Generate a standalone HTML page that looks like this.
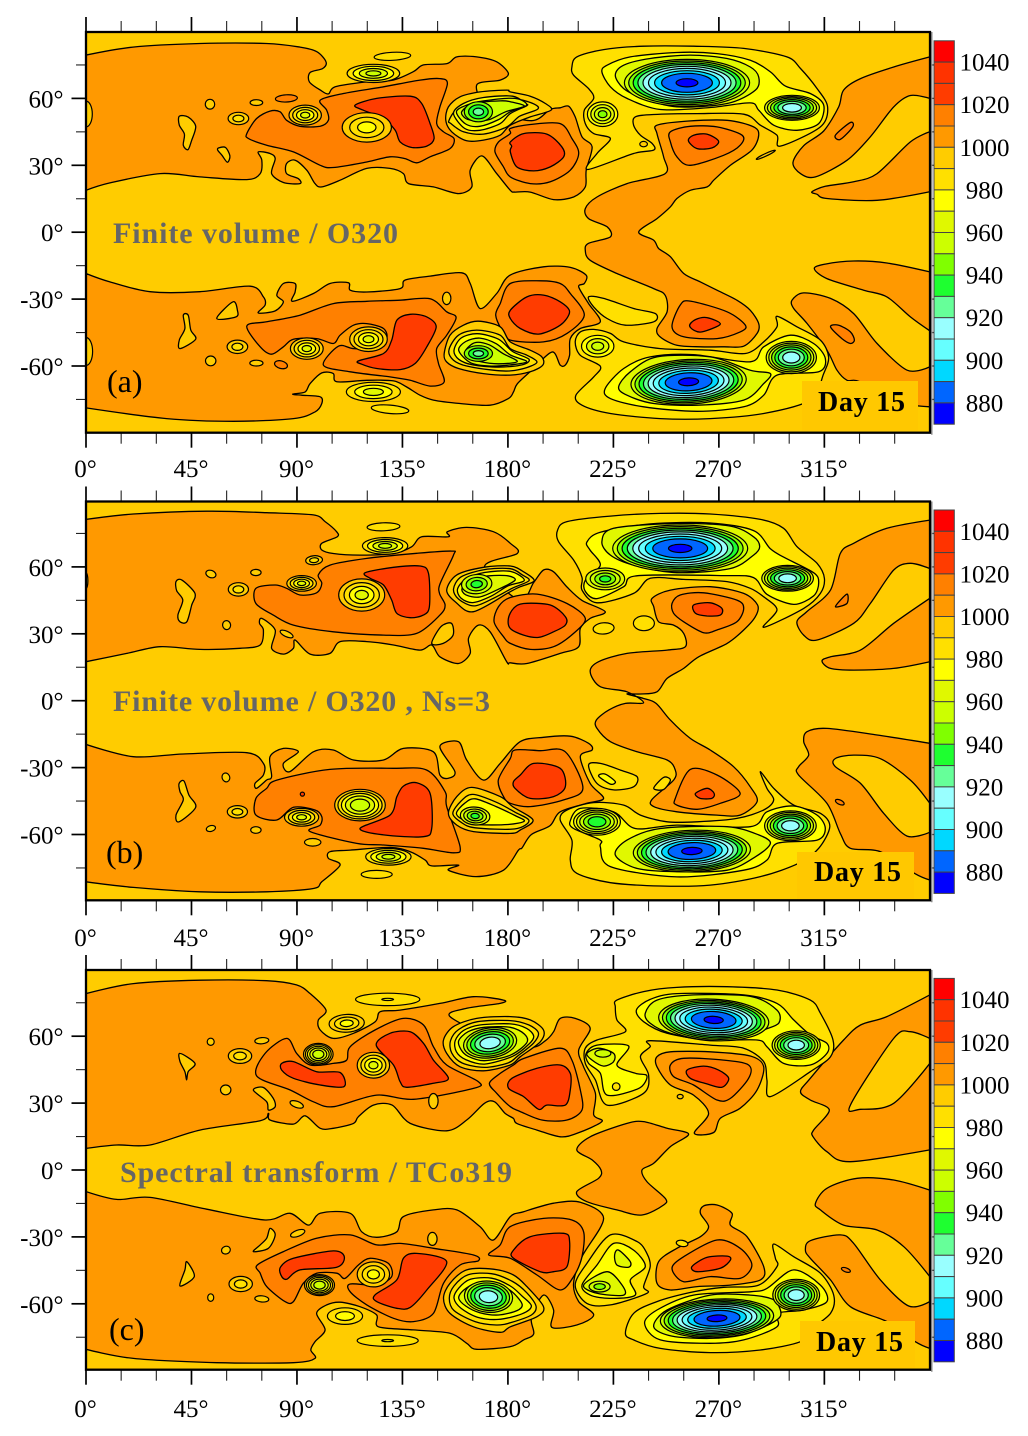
<!DOCTYPE html>
<html lang="en">
<head>
<meta charset="utf-8">
<title>Day 15 surface pressure contour maps</title>
<style>
html,body{margin:0;padding:0;background:#fff;}
svg{display:block;}
text{font-family:"Liberation Serif",serif;}
</style>
</head>
<body>
<svg id="figure" xmlns="http://www.w3.org/2000/svg" width="1028" height="1436" viewBox="0 0 1028 1436">
  <defs>
    <clipPath id="clip-a"><rect x="86" y="32" width="844" height="401"/></clipPath>
    <clipPath id="clip-b"><rect x="86" y="501" width="844" height="399.5"/></clipPath>
    <clipPath id="clip-c"><rect x="86" y="970" width="844" height="400"/></clipPath>
  </defs>
  <g id="panel-a">
    <rect x="86" y="32" width="844" height="401" fill="#FFCC00"/>
    <g id="marks-a" clip-path="url(#clip-a)"></g>
    <rect x="802" y="381" width="116" height="50" fill="#FFC800"/>
    <text x="113" y="243" font-size="30" font-weight="bold" fill="#666" textLength="285">Finite volume / O320</text>
    <text x="107" y="392" font-size="32" fill="#000">(a)</text>
    <text x="818" y="411" font-size="28" font-weight="bold" fill="#000" textLength="87">Day 15</text>
    <g id="axes-a"></g>
  </g>
  <g id="panel-b">
    <rect x="86" y="501" width="844" height="399.5" fill="#FFCC00"/>
    <g id="marks-b" clip-path="url(#clip-b)"></g>
    <rect x="797" y="852" width="117" height="47" fill="#FFC800"/>
    <text x="113" y="711" font-size="30" font-weight="bold" fill="#666" textLength="377">Finite volume / O320 , Ns=3</text>
    <text x="106" y="863" font-size="32" fill="#000">(b)</text>
    <text x="814" y="881" font-size="28" font-weight="bold" fill="#000" textLength="87">Day 15</text>
    <g id="axes-b"></g>
  </g>
  <g id="panel-c">
    <rect x="86" y="970" width="844" height="400" fill="#FFCC00"/>
    <g id="marks-c" clip-path="url(#clip-c)"></g>
    <rect x="800" y="1321" width="115" height="47" fill="#FFC800"/>
    <text x="120" y="1182" font-size="30" font-weight="bold" fill="#666" textLength="392">Spectral transform / TCo319</text>
    <text x="109" y="1340" font-size="32" fill="#000">(c)</text>
    <text x="816" y="1351" font-size="28" font-weight="bold" fill="#000" textLength="87">Day 15</text>
    <g id="axes-c"></g>
  </g>
</svg>
<script>
// Axis ticks and colour scale
const lonTicks = [0,15,30,45,60,75,90,105,120,135,150,165,180,195,210,225,240,255,270,285,300,315,330,345];
const lonLabels = [0,45,90,135,180,225,270,315];
const latTicks = [75,60,45,30,15,0,-15,-30,-45,-60,-75];
const latLabels = [60,30,0,-30,-60];
const barLevels = [1040,1030,1020,1010,1000,990,980,970,960,950,940,930,920,910,900,890,880,870];
const barColors = ["#FF0000","#FF3300","#FF3C00","#FF8000","#FF9900","#FFCC00","#FFE000","#FFFF00","#E0F800","#CCFF00","#80FF00","#1EFF30","#66FF99","#99FFFF","#66FFFF","#00D8FF","#0066FF","#0000FF"];
const barLabels = [1040,1020,1000,980,960,940,920,900,880];

// Contour regions: [band level, flat lon,lat list], painted in order
const regionsA = [
[1000,[0,79.4,20,83,48.6,84.6,77,84.6,91.3,83,98.4,81,102.4,76.4,101,73.4,95.6,71.6,95.3,67.4,100,63.7,103.4,62,106.3,65.2,119.8,67.4,131,68.2,139.7,72,144,75,154,75.6,158.2,78.6,166.7,78.6,175.2,76.4,180.2,71.2,176.7,68.2,166.7,66,172,55,190,50,198,55,202.3,55.8,205.9,56.5,208.7,51.7,211.6,42.8,215.9,38.3,213.4,27.8,213,20.3,208,15.8,199.5,14.6,189.5,18,183,18,181,18.8,175.2,26.3,168.9,34.2,163.9,27.8,164.6,20.3,158.9,17.3,148.2,20.3,137.6,21.8,135.4,26.3,129.7,28.6,119.8,28.6,108.4,23.3,100.6,20.3,97.7,21.8,94.2,27.8,89.2,32.3,85.6,30.8,85.6,26.3,90.6,24,91.3,21.8,84.2,22.3,79.2,26.3,80.7,33,78.5,35.3,73.5,36,75,32.3,74.3,26.3,68.6,23.6,48.6,24.8,31.6,26.3,10.2,22.1,0,18.8]],
[1000,[0,-18.5,10.2,-22.3,27.3,-26.7,48.6,-26.7,70,-24.2,75.7,-29,76.4,-32.7,73.5,-36.2,80.7,-35.3,84.2,-31.2,81.4,-28.3,84.2,-23,89.2,-23,89.2,-26.8,88,-31,97,-27.5,104.1,-23,112,-22.7,112.7,-26,119.8,-26.8,134,-25.3,136.1,-21.5,146.8,-19.7,160.3,-18.2,163.9,-23,168.1,-34.2,175.2,-27.5,180.9,-19.3,195.2,-15.5,206.6,-15.8,213.4,-19.3,212.6,-23,210.2,-24.5,214.4,-32,219.4,-40.2,210.9,-43.2,206.6,-47.7,206.3,-55.2,204.5,-59.6,202.3,-59.6,198.8,-53.7,190,-62,184,-68,182.4,-71.6,180.2,-74.6,172.4,-77.6,159.6,-76.8,148.2,-75.3,142.5,-73.1,136.8,-69.4,131.2,-66.7,119.8,-66.4,107,-67.1,105.5,-63.4,100.6,-63.1,95.6,-67.9,93.5,-71.6,88.2,-72.6,92,-73.1,99.9,-73.8,100.6,-76.8,97.7,-80.6,88.5,-83.6,62.9,-84.8,34.4,-83.6,0,-78.8]],
[1000,[243.6,48,256.4,49.8,273.5,50.2,284.8,47.2,287,43.5,284.1,36.8,274.9,30,267.8,23.3,265,20.3,257.8,18.8,252.1,15.1,249.3,11.4,243.6,6.1,235.8,0.1,242.2,-3.6,244.3,-7.3,249.3,-11,255,-18.5,262.1,-22.3,269.2,-26,277.7,-30.5,283.4,-35,287,-41,286.3,-45.4,280.6,-51.1,272,-51.4,262.1,-51.4,252.1,-50.7,245,-47,243.6,-43.2,247.9,-35.7,247.1,-28.3,242.2,-25.3,226.5,-18.5,215.1,-12.6,213,-8.1,214.4,-5,223.7,-2.1,222.3,2.4,214.4,6.1,213,10.6,218,15.8,230.8,21.8,247.1,26.3,246.4,33.8,243.6,44.2]],
[1000,[301.6,31.3,306.2,38.8,314.7,45.4,321.1,56.2,323.2,63.7,330.4,68.9,344.6,74.1,360,78.6,360,60,351.7,61.3,344.6,56.2,334.6,42.8,324.7,32.3,311.2,24.8,304.8,26.3]],
[1000,[309.7,18.1,315.4,20.6,327.5,22.6,337.5,26.3,351.7,40.5,360,45,360,18.1,337.5,14.3,316.1,15.1,311.9,17]],
[1000,[310.7,-16.3,315.4,-14.3,327.5,-12.9,341.7,-13.8,360,-17.8,360,-44.2,351.7,-38,341.7,-29,331.8,-26,316.1,-20.8]],
[1000,[301.2,-30.5,306.2,-27.2,317.6,-29.7,327.5,-36.5,337.5,-49.9,350.3,-61.9,360,-60.4,360,-78.3,345,-76,330,-67,324.7,-66.4,320.4,-61.9,316.1,-52.9,307.6,-40.9,301.9,-34.2]],
[990,[39.8,52,43.6,51.6,46.8,47.5,45,41,43.5,37,41.5,39,42,44,39.8,48]],
[990,[56.6,37.8,59.5,38,61.4,34.2,60.3,31.4,58,34.5,56.2,36.8]],
[990,[41.5,-37.2,43.6,-37.2,44.7,-43.9,46.8,-48,40.1,-52.2,39.8,-48.4,42.2,-43.2]],
[990,[55.8,-38.7,62.7,-31.2,64.6,-35,64,-38]],
[1010,[99.9,59.2,109.8,62.2,126.9,65.2,142.5,68.2,151,68.9,154.2,66.7,151,56.2,149.6,48.7,152.5,45,157,42,155.3,37.5,146.8,33.8,141.1,31.1,136.1,33,129.7,33.8,119.8,31.5,105.5,29,99.9,30,88.5,36,77.1,39,69.3,42,68.6,44.2,72.8,51,78.5,54.3,82.8,54,85.6,50.2,91.3,47.5,99.9,47.5,103.4,50.2,102.7,54.7]],
[1010,[68.6,-42.1,77.1,-40.2,91.3,-37.2,105.5,-32,119.8,-31,134,-30.5,146.8,-29.8,153.9,-35.7,157.9,-38.3,153.9,-46.2,149.6,-52.2,150.4,-58.9,152.8,-67.1,146.8,-69,138.3,-66.4,129.7,-64.9,112.7,-62.6,101.3,-59.6,107.7,-51.1,114.1,-52.2,124,-52.2,128.3,-47.7,126.9,-43.2,119.8,-41,114.1,-41.7,108.4,-46.2,105.5,-49.9,98.4,-47.7,88.5,-48,84.2,-51.4,79.2,-54.7,74.3,-51.4]],
[1010,[181,46.5,189.5,48.3,202.3,48.7,207.3,42,210.2,35.3,206.6,27.8,198.1,22.6,189.5,21.8,181,24.8,178.1,29.3,174.5,36,176,40.5,181,44.2]],
[1010,[181,-23,193.8,-21.8,202.3,-23,206.6,-27.5,212.6,-37.2,205.2,-45.4,195.2,-49.2,181,-48.4,177.4,-43.9,174.8,-37.2,176.7,-32]],
[1010,[249.3,45,257.8,47.5,269.2,47.2,279.9,43.5,279.1,39,272,34.5,257.8,30,252.1,33.8,249.3,40.5]],
[1010,[250,-42.4,253.5,-32.7,257.8,-30.9,273.5,-35.7,281.3,-41.7,279.1,-44.7,269.2,-47.7,255,-46.9]],
[1010,[319.7,43.5,326.1,49.2,327.1,47.2,321.8,41.6]],
[1010,[317.6,-42.4,321.1,-41.7,326.1,-44.7,327.8,-48.4,326.1,-49.9,322.5,-47.7]],
[1020,[114.8,57,124,60,138.3,61,143.2,57.7,146.8,48.7,148.5,42,145.4,38.6,139,38,134,40.5,131.9,45.7,126.9,51,118.3,54.7]],
[1020,[116.2,-57.7,126.9,-54.4,130.4,-48.4,132.6,-39.5,138.3,-36.8,145.4,-38,149.4,-42.4,145.4,-51.4,140.4,-58.9,134,-61.6,124,-61.1,117.6,-59.2]],
[1020,[186.7,44.2,196.6,44,203,38.3,203.8,33.8,198.1,29.3,191,27.5,183.8,29.3,181,36,181.6,38.6,181,40.5]],
[1020,[181,-35,188.1,-29,195.2,-28.2,202.3,-31.2,206.3,-35.7,202.3,-41.7,193.1,-45.7,185.3,-43.2,181,-38.7]],
[1020,[257,41,259.2,43.5,264.9,44,269.9,40.8,267.1,37.8,260.7,37.5]],
[1020,[257.5,-41.7,260,-39.2,264.9,-38.3,270.6,-41.2,262.8,-44.7,259.2,-43.9]],
[990,[153.5,50.2,154.6,56.2,159.6,60.7,168.1,62.9,179.5,63.7,181,62.9,189.5,61,196,57.7,198.4,54.7,189.5,51.7,181,48,176.7,43.5,169.6,41.3,162.4,41,156,45]],
[980,[154.8,50,158,55,165,58.2,172,59.5,180.5,60,186.5,59.2,192,57,192.5,55,185,52,179.5,47.2,169.6,44,161,45,155.7,48.7]],
[970,[156.8,53.2,161,57.7,169.6,60.4,182,61,187.4,57.7,188,56.7,181,53.2,176.7,48.7,168.1,45.7,161.6,46.5]],
[960,[158,54,162.4,57,169.6,58.9,183,60,188,57,181,54,176,50.5,168,47.5,162,48.5]],
[950,[160.3,54,165.3,57.7,176.7,58.9,181,58.5,187,56.5,179,54,172,50.5,166,50,162,51]],
[980,[207.3,74.1,209.4,78.6,220.8,81.9,237.9,83.4,259.2,83.4,280.6,82.4,299,78.6,304.8,73.4,311.9,64.4,316.4,56.2,313.3,47.2,296.2,38.6,294.8,43.5,287.7,48,280.6,52.9,260.7,53.2,242.2,52.8,234.3,51.7,233.6,48,236.5,43.5,241.5,39.8,242.2,36.8,233.6,35.3,214,28.1,218,35.3,223.7,42,216.6,44.2,213,48.7,212.6,54.7,216.6,60,214.4,64.4,208,70.4]],
[970,[220.1,71.9,222.3,74.9,232.2,78.6,252.1,80.6,269.2,80.1,283.4,77.1,292,71.9,298.4,65.5,309,62.2,314.7,57,312.6,48.7,303.3,45.7,293.4,48,287,54.7,283.4,58,266.3,55.9,245,55,230.8,60,223.7,65.2]],
[960,[225.8,70.4,229.4,74.9,240.7,77.9,257.8,79.4,273.5,77.9,283.4,74.1,287,69.6,285.6,63.7,273.5,57.7,252.1,56.2,237.9,60,229.4,64.4]],
[990,[152.8,-54.4,155.3,-46.2,161,-41.7,167.4,-39.9,176.7,-42.4,181,-49.2,189.5,-52.9,194.5,-55.9,194.9,-59.6,189.5,-62.6,181,-64.1,169.6,-63.4,158.9,-61.1,153.9,-58.2]],
[980,[154.8,-52.9,158.9,-46.2,166.7,-43.9,176.7,-46.2,181,-52.2,188,-55.1,192.4,-58.2,188,-60.7,181,-62.2,173.8,-61.9,162.4,-60,156.8,-57.4]],
[970,[157,-53,160,-47.5,167,-45.5,176,-48,182,-53.5,189,-57,186,-59.5,176,-60.5,165,-59.5,159,-57]],
[960,[159,-53,162,-49,168,-47.5,175,-50,181,-55,188,-58,181,-59.5,172,-60,164,-58.5]],
[950,[162,-53,166,-49.5,172,-50.5,178,-54.5,184,-58,176,-59,168,-58,163,-56]],
[980,[214.4,-29,220.8,-29.7,233.6,-34.2,242.9,-36.5,242.2,-40.2,230.1,-41.7,222.3,-38.7,216.6,-33.5]],
[980,[209,-73.1,211.6,-77.6,223.7,-81.3,245,-83.6,266.3,-83.6,289.1,-81.3,309,-75.3,314.7,-63.4,316.8,-55.9,313.3,-48.4,303.3,-42.4,294.8,-37.7,294.8,-42.4,289.1,-49.2,281.3,-54.4,266.3,-52.9,245,-52.2,229.4,-49.2,223.7,-45.4,216.6,-43.6,210.9,-44.7,208.7,-49.2,210.9,-55.2,219.4,-60.1,216.6,-64.9]],
[970,[221.5,-70.1,229.4,-61.1,240.7,-55.9,259.2,-54.9,283.4,-58.1,289.1,-51.4,300.5,-46.2,310.4,-49.9,315.4,-56.6,312.6,-62.6,294.8,-64.1,289.1,-73.1,280.6,-78.3,260.7,-80.3,237.9,-78.3,223.7,-74.6]],
[960,[227.2,-69.4,232.2,-62.6,243.6,-55.9,266.3,-55.9,283.4,-61.9,292,-63.4,289.1,-67.9,280.6,-75.3,260.7,-77.6,242.2,-76.8,230.8,-73.1]]
];
// Closed contour rings: [lon, lat, radius lon, radius lat, tilt, highest band, lowest band]
const vorticesA = [
[93.5,52.5,6.9,4.5,0,990,960],[119.8,47,10.5,6.6,0,990,970],[122.6,71.2,11.2,4.1,0,980,950],[130.7,78.9,7.8,1.8,-3,980,980],[65,51,4.4,2.8,0,990,980],[52.9,57.4,2,2.2,0,990,990],[72.7,58.1,2.7,1.3,0,990,990],[85.5,60,4.7,1.6,-3,1010,1010],[0,53,2.7,5.8,0,990,990],[167.4,54,6,4.5,0,940,920],[256.4,67,26.7,10.5,0,950,870],[301.2,55.8,11.7,5.6,0,960,910],[220.4,52.9,6.5,5.5,0,970,940],[237.9,39.5,1.6,1.2,0,990,990],[290,34.7,4.5,0.6,-25,990,990],
[120.5,-48,8,5.5,0,990,960],[94.2,-52.2,7,4.8,0,990,960],[122.6,-71.6,11.5,4.3,0,980,960],[129.7,-79.4,8,1.9,5,980,980],[153.9,-29.7,1.8,2.8,0,990,990],[64.6,-51.4,4.4,3,0,990,980],[53.2,-57.7,2.2,2.2,0,990,990],[72.7,-58.7,2.8,1.3,0,990,990],[83.2,-59.4,2.8,1.7,15,1010,1010],[0,-53.5,2.8,6.3,0,990,990],[167.4,-54.4,6,3.5,0,940,920],[257.1,-67.1,24.6,10,-3,950,870],[300.9,-56.2,10.7,7.2,0,960,910],[218.3,-51.1,6.9,4.9,0,970,950]
];

const regionsB = [
[1000,[0,81.3,20.2,83.7,51.5,85,77.1,84.3,97,83.3,102,80.3,106.9,75.8,107.2,73.5,100.6,70.6,100.6,67.6,105.5,66,116.9,65.3,131,66,138.9,69,143.2,73.5,154.6,73.5,154.2,75.8,162.4,77.7,173.8,75.8,181,70.6,184,66,170,60,185,45,191,53,195.2,58.6,199.5,57.8,205.2,51,211.6,45,221.5,39.9,215.1,36.9,210.9,32.4,210.2,24.2,202.3,21.2,188.1,16.7,181,17,179.5,17.5,172.4,30.9,167.4,33.9,163.2,28,163.9,21.2,158.9,16.7,151,19.7,147.5,25,142.5,22.7,131.2,25,119.8,26.5,108.4,26.5,104.1,21.2,95.6,20.9,89.2,27.2,88.5,23.5,84.2,20.9,79.2,23.5,80.7,31.7,75,36.9,74,34.7,75.7,31.7,74.3,25,65.7,23.5,48.6,23,31.6,24.2,17.4,21.2,0,17.5]],
[1000,[0,-19.6,20.2,-25.1,41.5,-23.9,68.6,-23.3,75.7,-28.1,75.7,-33.3,72.1,-37.1,72.8,-39.3,77,-35.6,79.2,-34.1,78.5,-25.1,84.2,-21.4,90.6,-22.9,84.2,-28.1,87,-31.8,97,-22.9,105.5,-22.1,114.1,-26.6,126.9,-26.6,135.4,-21.4,148.2,-22.9,151,-33.3,154.6,-34.8,157.4,-31.8,151,-20.6,158.9,-18.4,162.4,-26.6,169.6,-35.6,176.7,-28.1,185.2,-18.4,195.2,-16.4,206.6,-15.9,214.4,-19.1,215.9,-22.1,210.9,-25.1,215.1,-37.1,220.8,-43.8,213.7,-46,202.3,-49.8,198,-56,190,-60,186,-66,184.5,-67,178.1,-76,166.4,-78.9,154.6,-76,158.9,-73.7,147.5,-74.1,144.7,-71.5,138.3,-67.7,129.7,-65.8,112.7,-67,104.1,-67.7,103.4,-70.7,108.4,-73.7,100.6,-81.2,97,-84.2,77.1,-85.7,48.6,-85.7,20.2,-83.7,0,-81.2]],
[1000,[241.5,45.9,249.3,49.6,266.3,51.1,280.6,48.1,286.5,42.9,285.6,37.7,280.6,31.7,273.5,25.7,261.4,19.7,255,14.5,247.9,10,243.6,4,236.5,3,230.8,3,237.9,1,243.2,-1.2,249.3,-8.7,257.8,-16.9,266.3,-22.1,276.3,-29.6,283.4,-38.6,286.3,-45.3,279.1,-51.3,269.2,-51.3,252.1,-49.8,242.2,-47.5,241.5,-44.2,250.7,-35.6,251.4,-31.1,247.9,-26.6,235.1,-22.9,223.7,-18.4,218,-12.4,217.7,-8.7,223,-4.2,230.1,-1.2,237.9,-0.9,230.8,4,219.4,6.3,215.1,13,218.7,17.5,230.8,21.2,247.9,22.7,255.7,24.2,255,30.2,250.7,33.9,244.3,35.4,242.2,42.2]],
[1000,[303.3,35.4,307.6,40,317.6,49.6,321.8,66,327.5,70.6,341.7,77.3,360,81,360,59.3,351.7,61.6,344.6,58.6,334.6,43.6,327.5,34.7,311.9,27.2,306.2,29.4]],
[1000,[314,17.8,317.6,19.7,330.4,22.7,344.6,34.7,360,45.9,360,17.5,344.6,14.5,327.5,13.7,317.6,14.5]],
[1000,[307.6,-13.9,316.1,-12.4,337.5,-15.4,360,-19.1,360,-80.4,353.4,-77.4,338.9,-67.7,326.1,-66.2,321.8,-59.5,316.1,-46,304,-33.3,304,-29.6,308.3,-24.4,306.2,-18.4]],
[990,[319.7,-25.9,327.5,-24.4,338.9,-26,351.7,-35.6,360,-46,360,-59,350.3,-60.7,340.3,-50.5,330.4,-37.1,319.7,-29.6]],
[990,[38.4,53.4,40.9,54.1,46.5,48.1,45.1,42.9,43,35.4,40.1,35.4,39.2,38.4,41.3,45.1,38.7,49.3]],
[990,[147.5,25.7,151.4,33.2,155.9,34.7,156.6,29.4,152.4,25.7]],
[990,[39.7,-37.1,41.8,-36,43.9,-42.3,46.8,-47.8,39.7,-54.3,38.4,-51.3,41.5,-44.5,40.1,-40.8]],
[1010,[72.5,50.4,80.7,51.9,85.6,50.4,91.3,47.4,98.4,48.4,100.6,52.6,99.1,56.4,104.1,60.8,119.8,63.8,141.1,66.1,156,67.1,156.8,65.3,151.1,52.6,150.8,48.1,153.2,42.9,151,38.4,141.1,30.2,126.9,29.4,105.5,30.9,88.5,33.9,79.9,38.4,72.5,43.6]],
[1010,[72.5,-43.8,77.1,-39.3,81.4,-35.6,104.1,-30.8,131.2,-30.3,145.4,-31.1,153.2,-40.8,153.9,-47.5,159.6,-65.5,156.8,-68.2,143.9,-66.2,126.9,-64.7,115.5,-64,95.6,-58.7,99.9,-55.8,100.6,-52,97.7,-49,88.5,-47.8,81.4,-53.5,72.5,-51.3]],
[1010,[192.4,47.8,205.2,43.6,213,36.9,208,30.2,199.5,24.2,189.5,23,181,25.7,178.1,28.7,174.1,35.4,176,42.2,181,46.3]],
[1010,[193.8,-22.4,204.5,-22.9,212,-39.3,203.8,-44.5,189.5,-47.5,181,-46,178.1,-43,175.9,-35.6,181,-25.9,183,-22.1]],
[1010,[250,43.6,253.5,47.4,263.5,48.4,277.7,45.1,280.6,41.4,277.7,35.4,269.2,31.7,263.5,30.5,255,35.4,250.7,39.2]],
[1010,[251.4,-43.8,257.8,-30.8,269.2,-33.3,279.1,-41.6,270.6,-46,260.7,-48.7,252.1,-46.8]],
[1010,[319.7,42.2,324.6,47.8,324.6,43.6]],
[1020,[119.1,57.4,131.2,59.8,142.5,60.4,146.1,57.1,146.5,42.2,143.9,38.4,138.3,37.2,132.6,39.2,130.4,45.1,126.9,51.9,121.2,54.9]],
[1020,[116.9,-57.3,129.7,-51.3,132.6,-43.1,135.4,-38.3,141.1,-36.8,146.8,-41.6,147.5,-57.3,143.9,-61,126.9,-60.2]],
[1020,[186.7,43.6,198.1,42.9,204.5,37.7,204.5,33.9,199.5,30.9,193.1,28.4,186.7,29.4,181,32.4,180.2,36.9,182.4,41.4]],
[1020,[191,-28.1,202.3,-30.3,204.5,-38.6,199.5,-43,189.5,-43.8,183,-39.3,182.4,-36.3,185.3,-33.3]],
[1020,[259.2,42.9,266.3,43.9,271.3,41.4,270.6,38.4,264.9,38,260,39.2]],
[1020,[260,-41.6,265,-39.3,268,-41.6,267,-43.8,262,-43.8]],
[990,[153.9,49.6,158.2,56.4,169.6,59.8,181,60.4,186.7,57.8,191.2,53.8,185.3,51.1,181,48.9,165.3,39.9,157.5,44.4]],
[980,[156.8,50,160,55.5,170,58.8,181,59.2,186,56.5,189,53.8,182,50.5,173,45.5,165.5,42.5,159,45.5]],
[970,[158.5,50,162,54.5,170,57.5,181,58,187,54,180,51.5,173,47,165,44,160,46]],
[960,[160.5,50.5,165,54.5,172,56,180,56,183,54,176,50,168,46.5,162,47.5]],
[980,[201.2,76.5,205.2,80.3,223.7,82.8,245,84,266.3,83.7,287.7,81.3,297.6,77.3,303.3,69.1,311.9,61.6,315,54.9,313.3,48.1,306.2,41.4,289.1,32.9,294.8,40.7,289.1,46.6,283.4,50.4,273.5,53.4,255,54.4,240.7,54.9,233.6,48.1,218,43.9,211.6,49.6,211.6,55.3,208,63.1,201.6,71.3]],
[970,[213.7,71.1,219.4,75.5,240.7,79.3,266.3,79.7,284.8,76.3,292,68.1,297.6,64.4,310.4,57.4,312.6,52.9,310.4,47,301.9,43.2,290.5,47.7,284.8,55.2,272,56.1,235,56,229.4,51.1,218,45.8,213,49,213,54,219.4,60.8,215,67.6]],
[960,[220.1,71.3,225.1,77.3,252.1,79.5,274.9,78.3,284.8,73.5,287.4,69.1,284.8,65.3,274.9,59.3,252.1,57.4,233.6,60.8,223.7,65.3]],
[990,[154.6,-50.5,158.2,-43,164.6,-38.9,176.7,-43,182,-47.5,190.7,-53.5,185.3,-58,181,-59.5,165.3,-58.7,158.2,-55.8]],
[980,[156.5,-50.5,160,-45,165,-42,175,-45.5,183,-50,189,-53.8,183,-57.5,166,-57,160,-54.5]],
[970,[158,-50.5,161.5,-46,166,-44,175,-47.5,183,-51.5,187,-54,180,-55.5,167,-55.5,161,-53.5]],
[980,[214.4,-28.8,219.4,-28.1,228,-31.1,235.1,-34.1,233.6,-38.6,225.1,-40,218,-37.1]],
[970,[218.7,-33.8,221.5,-32.9,225.8,-36.3,223.7,-37.4]],
[980,[242.2,-39.3,246.4,-34.4,249.3,-35.6,246.4,-39.8]],
[980,[206.6,-71.5,209.4,-77.4,223.7,-81.6,245,-83.1,266.3,-82.7,287.7,-78.9,304,-72.9,312.6,-66.2,317.3,-56.5,313.3,-50.5,301.9,-46.8,293.4,-39.3,287.7,-31.8,290.5,-39.3,293.4,-44.5,289.1,-49,277.7,-52.8,260.7,-54.3,247.9,-54.3,236.5,-51.3,229.4,-46.8,216.6,-45.7,205.2,-49,202.3,-53.5,207.3,-62.5]],
[970,[206.6,-53.8,210.9,-48.3,225.1,-49.8,234.3,-57.3,252.1,-55.8,283.4,-56.5,290.5,-49.8,301.9,-47.2,311.9,-51.3,315.4,-57.3,311.9,-62.5,294.8,-64,290.5,-71.5,280.6,-76,252.1,-79,223.7,-74.4,219.4,-65.5,219.4,-62.5,208,-57.3]],
[960,[225.8,-69.2,230.8,-62.5,245,-57.3,273.5,-56.5,287,-60.2,292,-64,285.6,-70,273.5,-76,252.1,-76.7,235,-75.2]]
];
const vorticesB = [
[92,52.6,6.3,3.5,0,990,960],[117.6,47.4,9.8,7.2,0,990,960],[127.6,69.4,9.7,3.7,0,980,950],[126.9,78,7,1.8,-2,980,980],[97.3,63,3.6,2,-5,990,980],[65,49.9,4.3,3,0,990,980],[53.3,56.8,2.2,1.6,20,990,990],[72.5,57.5,2.2,1.4,0,990,990],[60,33.9,1.7,2,-10,990,990],[85.6,29.9,3,1.2,25,990,990],[0,53.8,0.8,3.5,0,970,970],[220.8,32.4,4.5,2.5,-5,980,980],[238,34.7,4.5,3.3,0,980,980],[166.7,52.3,6.5,4.3,-5,950,930],[253.5,68.3,28.8,10.5,0,950,870],[299.3,54.9,11,5.8,0,960,910],[221.5,54.6,8.3,4.9,0,960,930],
[116.9,-46.8,10.8,7.1,0,990,950],[92,-52.3,7.3,4,0,990,960],[64.6,-49.8,4.3,2.8,0,990,980],[96.7,-63.5,3.5,1.7,0,990,990],[129,-70,9.7,3.7,0,980,950],[124,-77.9,6.6,1.8,0,980,980],[53.3,-57.3,2,1.3,-15,990,990],[72.5,-58,2.2,1.5,0,990,990],[59.7,-34.4,1.6,2,-20,990,990],[92.3,-41.9,0.9,0.9,0,1020,1020],[166,-51.7,6.3,4,5,960,930],[258.5,-67.4,25,9.3,-2,950,870],[300.5,-56.1,11,6.7,0,960,910],[218,-54.3,10,6,0,970,930],[321.6,-45.5,2,1,25,1010,1010]
];

const regionsC = [
[1000,[0,79.1,20.2,83.6,48.6,85.1,77.1,84.9,89.8,83,95.5,79.2,102.4,71.7,99.1,67.2,99.9,62.8,105.5,59,114.1,61.3,123.4,66.5,125.5,71,134,71.7,151,74.7,165.3,77.7,178.1,76.2,176.7,74.7,162.4,72.5,155.3,68.8,176,58,190,55,196,58,199.5,62,202.3,68,208.7,68,215.1,63.5,210.2,53.8,212.3,46.3,217.3,34.4,216.6,24.7,220.1,21.7,209.4,16.4,202.3,14.9,192.4,17.9,183.8,20.9,182.4,23.1,178.8,25.4,174.3,30.6,170,29.9,162.4,22.4,153.9,17.6,138.3,20.9,130.6,29.1,122.6,29.1,116.2,23.9,114.1,20.9,105.5,18.7,99.9,18.7,93.5,24.3,88.5,20.6,78.5,22.4,77.8,25.4,74.3,22.1,48.6,17.9,27.3,11.2,13.1,11.2,0,9.7]],
[1000,[0,-9.7,13.1,-13.2,27.3,-12.3,51.5,-17.6,76.4,-22.4,87,-19.4,94.9,-24.7,99.9,-19.4,112.7,-19.4,117.6,-27.7,124,-30.2,132.6,-27.7,135.4,-20.9,148.2,-17.9,158.2,-17.9,168.1,-25.4,173.8,-31.4,181,-20.9,186.7,-18.7,199.5,-14.9,210.9,-14.5,220.8,-21.7,211.6,-38.9,208,-50.8,210.2,-59,216.6,-65,209.4,-69.5,198.8,-70.6,199.5,-62.8,195.2,-56.1,190,-66,191,-73.5,186.7,-76.2,181,-79.2,166.7,-80.4,162.4,-77.7,155.3,-73.2,139.7,-71.7,124.8,-70.3,124,-65,116.9,-61.3,108.4,-59.3,102.7,-60.5,98.4,-64.3,102,-71.7,97.7,-77,95.9,-80.7,97.7,-84.5,88.5,-86.4,55.8,-86.4,20.2,-84.5,0,-80.4]],
[1000,[209.4,9,215.1,14.9,230.8,20.9,237.9,21.7,247.9,18.7,257.1,16.1,249.3,10.5,242.2,3,237.2,0,239.3,-5.2,247.1,-12.7,246.4,-15.7,237.2,-20.2,226.5,-17.9,213.7,-14.2,209.4,-9.7,218.7,-3.7,219.7,0,216,4.5]],
[1000,[243.6,50.8,249.3,53,266.3,53,283.4,51.1,289.1,46.3,286.3,35.9,279.1,27.7,270.6,23.2,267.8,16.8,259.5,16.5,265.6,25.4,259.2,33.6,249.3,38.1,243.6,46.3]],
[1000,[243.6,-50.8,244.3,-41.1,252.1,-35.1,262.1,-29.9,265.6,-25.4,262.1,-19.4,263.5,-16.1,269.2,-15.7,275.6,-19.4,274.9,-24.7,282,-29.9,289.1,-43.3,287.7,-49.3,274.9,-51.6,260.7,-52.3,249.3,-53.8]],
[1000,[304.8,35.1,309,41.1,323.2,58.3,330.4,65,341.7,68.8,360,78.5,360,9,326.1,3.7,316.1,8.2,310.2,14.9,310.4,17.9,317.1,26.9,309,31.4]],
[990,[326.1,29.1,344.6,59,351.7,62,360,59,360,47.8,344.6,29.9,330.4,27.2]],
[1000,[311.2,-14.9,316.1,-8.2,329,-3.7,344.6,-4.5,360,-9,360,-47.8,348.9,-34.4,337.5,-26.9,323.2,-24.7,313.3,-17.9]],
[1000,[306.9,-35.9,309,-31.7,321.8,-29.1,327.5,-32.9,338.9,-49.3,351,-61,360,-59,360,-80,353.8,-77,341.7,-68,326.1,-61.3,317.6,-49.3,309,-39.6]],
[990,[71.4,35.8,75.7,37,79.9,32.1,80.7,28.4,77.8,26.9,77.1,30.6]],
[990,[40.1,52.3,46.5,47.8,43.6,44.1,42.9,40.4,42.2,44.1,40.1,48.6]],
[990,[78.5,-26.2,80.7,-29.1,77.8,-35.1,71.4,-36.6,74.3,-33.6,77.1,-30.6]],
[990,[43,-41.1,46.2,-47.8,40.1,-52,42.2,-44.8]],
[1010,[72.8,42.2,76.4,52.3,85.6,59,89.9,52.3,95.6,47.1,105.5,47.8,111.2,49.3,112.7,55.3,123.3,62.8,135.4,68,144,65,148.2,55.3,153.9,47.1,167.4,39.6,165.3,36.6,139.7,31.7,124,33.6,105.5,28.4,97,30.6,87,35.9]],
[1010,[73.1,-42.6,84.2,-36.6,98.4,-30.6,112.7,-29.1,124,-33.6,134,-32.9,148.2,-35.1,165.3,-38.1,167.4,-40.7,159.6,-42.6,152.5,-50.8,148.2,-64.3,139.7,-68,131.2,-66.5,119.8,-60.5,112.7,-54.6,112.7,-51.1,124,-51.6,130.4,-47.8,129,-41.9,121.2,-39.6,116.2,-42.6,110.5,-48.6,107,-46.3,98.4,-46.3,92.7,-50.8,88.5,-59,84.9,-59,77.1,-52.3,74.3,-46.3]],
[1010,[186.7,50,202.3,54.6,207.3,49.3,210.9,35.9,211.6,26.9,205.2,22.4,194.5,22.4,185.3,26.2,181,28.4,175.2,34.4,172.1,38.9,176.7,43.3,182.4,47.1]],
[1010,[181,-25.4,195.2,-21.7,207.3,-22.4,212.3,-27.7,211.6,-38.9,208,-47.8,202.3,-53.8,192.4,-47.1,181,-39.6,171.8,-38.1,176.7,-33.6]],
[1010,[249.3,47.1,255,50.1,272,49.3,282.7,47.1,282.7,41.1,274.9,32.1,269.2,31.4,259.2,38.1,250.7,41.9]],
[1010,[250,-44.1,255,-38.9,269.2,-31.4,279.1,-35.1,284.1,-42.6,279.1,-48.6,266.3,-47.8,255,-50.1]],
[1020,[83.5,47.8,88.5,48.6,98.4,44.1,108.4,43.7,110.1,37.4,99.9,38.1,88.5,41.1,83.5,44.8]],
[1020,[123.8,56,129.7,61.3,138.3,62,144,56.8,148.2,49.3,154.6,41.1,148.2,38.9,136.8,37.1,134,39.6,131.2,47.1]],
[1020,[83.1,-43.3,88.5,-39.6,105.5,-36.3,110.2,-38.9,107,-43.6,91.3,-44.8,85.6,-49,83.1,-47]],
[1020,[123.3,-56,132.6,-49.3,135.4,-39.6,141.1,-37.4,153.9,-41.1,145.4,-53.8,138.3,-61.6,132.6,-62,124,-59]],
[1020,[192.4,45.6,202.3,47.1,206.6,43.3,206.6,35.9,204.5,29.1,196.6,29.1,193.1,27.2,186.7,32.9,180.3,36.6,181.7,41.1]],
[1020,[182.4,-35.9,189.5,-29.9,203.8,-28.4,206.3,-32.1,205.2,-43.3,199.5,-45.6,193.8,-45.6,182.4,-39.6]],
[1020,[256.4,44.8,263.5,46.6,269.9,44.8,274.2,41.1,271.3,37.1,264.9,38.6,257.8,41.1]],
[1020,[258.5,-43.3,264.9,-39.2,273.5,-38.6,274.9,-40.4,270.6,-44.1,260.7,-45.6]],
[990,[152.5,58.3,156.8,64.3,166.7,68,181,68.8,189.5,67.3,195.2,62.8,193.8,57.5,185.3,50.8,181,47.1,169.6,44.5,159.6,46.3,153.9,52.3]],
[980,[155.5,58,159,63,167,66.5,181,67,189,65,193,61.5,191,57,184,51,180,48,170,46,160.5,48,156,52.5]],
[970,[157.5,58,161,62.5,168,65,181,65.5,188,63.5,191,60,189,56.5,182,51,170,47.5,162,49.5,158,53]],
[960,[159,58,163,62,170,64,181,64,187,61,188,57,181,51.5,170,49,163,51,160,54]],
[980,[225.8,73.2,226.5,76.2,237.9,80,252.1,81.9,273.5,82.2,294.8,80.7,309,76.2,313.3,70.3,318.7,58.3,317.6,50.8,309,44.1,292,32.9,290.5,40.4,289.1,48.6,280.6,54.6,266.3,56,240.7,58,240.7,55.3,236.5,50.8,240,42.6,237.9,34.4,222.3,29.1,217.3,40.4,213,47.8,213,54.6,218,58.3,230.1,62,226.5,67.3]],
[970,[234.8,71.7,240.7,76.5,252.1,79.1,280.6,78.5,294.8,74.7,301.9,67.3,309,60.6,316.1,56.8,316.1,52.3,309,47.1,297.6,47.8,290.5,55.3,286.3,58.3,266.3,58.3,247.9,61.3,237.9,66.5]],
[960,[238.6,70.3,243.6,76.2,259.2,78.5,283.4,77.9,294.8,71.7,295.5,65.8,289.1,62.8,283.4,59.8,266.3,58,249.3,61.3,240.7,65.8]],
[970,[213.4,52.3,218,56,231.5,55.6,226.5,47.1,234.3,43.4,239.3,42.2,235.8,36.6,222.3,33.6,219.4,43.4,214.4,47.8]],
[960,[213.7,52.3,218.7,54.6,225.1,52.3,225.1,48.6,220.8,46.6,215.9,49.3]],
[990,[152.5,-57.5,155.3,-50.8,162.4,-44.8,173.8,-44.5,182.4,-47.1,188.1,-52.3,195.2,-61.3,192.4,-65.8,181,-70.3,176.7,-72.8,165.3,-70.3,155.3,-64.3]],
[980,[155,-57.5,157,-52,163,-47,173,-46.5,182,-50,188,-55,192,-61,190,-65,181,-68.5,175,-69.5,166,-68,157,-63]],
[970,[157,-57.5,159,-53,164,-49,173,-48.5,181,-52,186,-56.5,190,-61,186,-64.5,176,-67,167,-66,160,-62]],
[960,[159,-57.5,161,-54,166,-51,174,-51,181,-54,186,-60,184,-63,176,-65,168,-64,162,-61]],
[980,[208.7,-51.6,213.7,-41.9,223.7,-29.1,235.1,-32.1,239.3,-37.4,240.7,-43.3,237.9,-52.3,239.3,-55.3,223.7,-60.5,213.7,-59.8]],
[970,[211.6,-51.6,218,-42.6,225.1,-32.9,233.6,-35.9,238.6,-43.3,232.2,-49.3,234.3,-56.1,223.7,-57.6,215.1,-56.1]],
[960,[225.5,-38.1,227.2,-35.9,232.2,-41.1,231.5,-43.6,226.5,-42.6]],
[960,[212.3,-51.6,222.3,-45.6,228.7,-51.6,229.4,-56.1,218,-55.3]],
[980,[230.1,-73.2,233.6,-64.3,243.6,-59,259.2,-54.6,272,-52.6,287,-51.6,294.8,-43.3,294.1,-39.6,293.4,-33.2,301.9,-38.9,313.3,-46.3,319,-56.1,317.6,-64.3,309,-71.7,304.8,-77,287.7,-80.7,266.3,-81.9,245,-80,233.6,-76.2]],
[970,[238.3,-68.8,243.6,-62.8,259.2,-56.1,283.4,-54.6,290.5,-53.1,301.9,-44.8,313.3,-51.6,316.1,-59,306.2,-62.8,294.8,-64.3,294.8,-70.3,280.6,-76.2,266.3,-77.7,245,-76.2]],
[960,[242.2,-70.3,247.9,-62.8,266.3,-56.1,283.4,-56.1,293,-58,296,-62,296,-66,290,-70,280,-74,266,-75.5,250,-74.5]]
];
const vorticesC = [
[122.6,47,6.9,5.8,0,990,960],[99.1,51.9,6.3,4.9,0,990,950],[111.2,65.8,7.5,4,-3,990,970],[128.7,76.5,13.7,2.8,0,980,980],[128.7,76.5,2.5,0.5,0,970,970],[65.7,51.1,5,3.3,0,990,980],[53.2,57.5,1.5,1.6,0,990,990],[75,58,3,1.4,-5,990,990],[59.6,35.9,2.2,2.2,0,990,990],[89.9,29.4,3,1.4,20,990,990],[148.2,30.9,2,3.4,0,990,990],[172.4,57,11.4,6.7,-8,950,910],[267.8,67.3,23.5,9.3,3,950,870],[303,56,10.3,6.4,0,960,910],[220.5,52.3,3.4,1.7,0,950,950],[226.2,37.4,1.6,1.7,0,980,980],[253.5,32.9,1.3,1,0,990,990],
[122.6,-46.8,6.9,5.6,0,990,970],[99.6,-51.6,6.4,4.7,0,990,950],[66,-51.1,5,3.4,0,990,980],[53.2,-57.2,1.3,1.7,0,990,990],[75,-57.8,3,1.4,5,990,990],[59.7,-35.9,1.9,1.7,-20,990,990],[90.3,-28.4,3.2,1.4,-20,990,990],[147.8,-30.9,2,2.9,0,990,990],[110.5,-65.5,7.5,3.7,0,980,970],[128.7,-76.5,13,2.6,0,980,980],[128.7,-76.5,2.5,0.5,0,970,970],[171.7,-56.8,10.3,7,5,950,910],[269.2,-66.5,24.2,8.6,-3,950,870],[303,-56.1,10,7.1,0,960,910],[219.1,-52.3,4.5,2.4,0,950,940],[254.3,-32.9,2.5,1.4,10,980,980],[324.2,-44.8,2,0.9,20,1010,1010]
];

const NS = 'http://www.w3.org/2000/svg';
function make(tag, attrs, parent, txt) {
  const el = document.createElementNS(NS, tag);
  for (const k in attrs) el.setAttribute(k, attrs[k]);
  if (txt !== undefined) el.textContent = txt;
  parent.appendChild(el);
  return el;
}
function bandColor(level) { return barColors[barLevels.indexOf(level)]; }
function xScale(lon) { return 86 + lon * 2.344; }
function yScaleFor(cy) { return function (lat) { return cy - lat * 2.23; }; }

function contourPath(flat, y) {
  const pts = [];
  for (let i = 0; i < flat.length; i += 2) pts.push([xScale(flat[i]), y(flat[i + 1]), flat[i] <= 0 || flat[i] >= 360]);
  const n = pts.length;
  const tangent = function (i) {
    if (pts[i][2]) return [0, 0];
    const a = pts[(i - 1 + n) % n], b = pts[(i + 1) % n];
    return [(b[0] - a[0]) / 6.5, (b[1] - a[1]) / 6.5];
  };
  let d = 'M' + pts[0][0].toFixed(1) + ' ' + pts[0][1].toFixed(1);
  for (let i = 0; i < n; i++) {
    const p = pts[i], q = pts[(i + 1) % n], t0 = tangent(i), t1 = tangent((i + 1) % n);
    d += 'C' + (p[0] + t0[0]).toFixed(1) + ' ' + (p[1] + t0[1]).toFixed(1) + ' ' + (q[0] - t1[0]).toFixed(1) + ' ' + (q[1] - t1[1]).toFixed(1) + ' ' + q[0].toFixed(1) + ' ' + q[1].toFixed(1);
  }
  return d + 'Z';
}

function drawContours(group, regions, vortices, y) {
  regions.forEach(function (r) {
    const el = make('path', { d: contourPath(r[1], y), fill: bandColor(r[0]), stroke: '#000', 'stroke-width': 1.3, 'stroke-linejoin': 'round' }, group);
    
    
  });
  vortices.forEach(function (v) {
    const n = (v[5] - v[6]) / 10 + 1;
    const power = n <= 4 ? 0.9 : 0.6;
    for (let i = 0; i < n; i++) {
      let k = Math.pow(1 - i / n, power);
      if (n >= 7 && i === n - 1) k *= 0.65;
      const cx = xScale(v[0]), cy = y(v[1]);
      const el = make('ellipse', { cx: cx.toFixed(1), cy: cy.toFixed(1), rx: (v[2] * 2.344 * k).toFixed(1), ry: (v[3] * 2.23 * k).toFixed(1), transform: 'rotate(' + v[4] + ' ' + cx.toFixed(1) + ' ' + cy.toFixed(1) + ')', fill: bandColor(v[5] - 10 * i), stroke: '#000', 'stroke-width': 1.2 }, group);
      
      
    }
  });
}

function drawAxes(group, y, top, bottom, labelBase) {
  lonTicks.forEach(function (lon) {
    const major = lon % 45 === 0;
    const len = major ? 15 : 11;
    const x = xScale(lon);
    const t1 = make('line', { x1: x, x2: x, y1: top, y2: top - len, stroke: major ? '#000' : '#222', 'stroke-width': major ? 1.7 : 1.1 }, group);
    
    
    const t2 = make('line', { x1: x, x2: x, y1: bottom, y2: bottom + len, stroke: major ? '#000' : '#222', 'stroke-width': major ? 1.7 : 1.1 }, group);
    
    
  });
  latTicks.forEach(function (lat) {
    const major = lat % 30 === 0;
    const len = major ? 14.5 : 10;
    const t1 = make('line', { x1: 86, x2: 86 - len, y1: y(lat), y2: y(lat), stroke: major ? '#000' : '#222', 'stroke-width': major ? 1.7 : 1.1 }, group);
    
    
    const t2 = make('line', { x1: 930, x2: 934, y1: y(lat), y2: y(lat), stroke: '#333', 'stroke-width': 1.3 }, group);
    
    
  });
  lonLabels.forEach(function (lon) {
    const el = make('text', { x: xScale(lon) - 0.5, y: labelBase, 'font-size': 25, 'text-anchor': 'middle', fill: '#000' }, group, lon + '°');
    
    
  });
  latLabels.forEach(function (lat) {
    const el = make('text', { x: 63.5, y: y(lat) + 9, 'font-size': 25, 'text-anchor': 'end', fill: '#000' }, group, lat + '°');
    
    
  });
  const shade = make('line', { x1: 931.8, x2: 931.8, y1: top, y2: bottom + 2, stroke: '#888', 'stroke-width': 1.4 }, group);
  
  
  const frame = make('rect', { x: 86, y: top, width: 844, height: bottom - top, fill: 'none', stroke: '#000', 'stroke-width': 2.3 }, group);
  
  
}

function drawColorbar(group, barTop) {
  const barY = function (level) { return barTop + (1050 - level) * 2.13; };
  barLevels.forEach(function (level, i) {
    const el = make('rect', { x: 934, y: barY(level + 10).toFixed(1), width: 20.3, height: 21.3, fill: barColors[i], stroke: '#444', 'stroke-width': 1 }, group);
    
    
  });
  barLabels.forEach(function (level) {
    const el = make('text', { x: 984.5, y: (barY(level) + 8.5).toFixed(1), 'font-size': 25, 'text-anchor': 'middle', fill: '#000' }, group, String(level));
    
    
  });
}

const yA = yScaleFor(232.2), yB = yScaleFor(700.7), yC = yScaleFor(1170);
drawContours(document.getElementById('marks-a'), regionsA, vorticesA, yA);
drawContours(document.getElementById('marks-b'), regionsB, vorticesB, yB);
drawContours(document.getElementById('marks-c'), regionsC, vorticesC, yC);
drawAxes(document.getElementById('axes-a'), yA, 32, 432.7, 477);
drawAxes(document.getElementById('axes-b'), yB, 501.5, 900.3, 946);
drawAxes(document.getElementById('axes-c'), yC, 970, 1369.7, 1417);
drawColorbar(document.getElementById('axes-a'), 40.8);
drawColorbar(document.getElementById('axes-b'), 510);
drawColorbar(document.getElementById('axes-c'), 978.4);
</script>
</body>
</html>
